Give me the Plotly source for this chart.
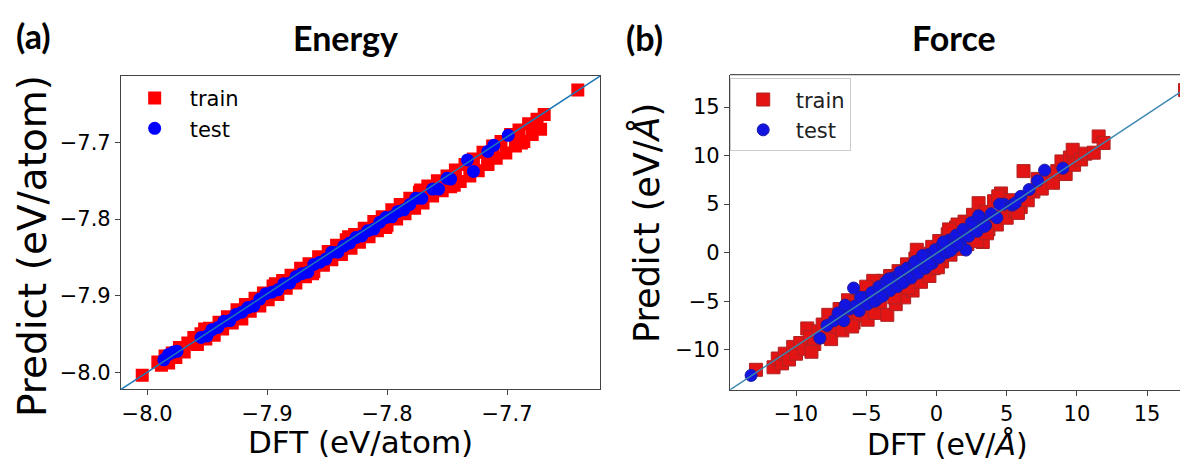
import plotly.graph_objects as go

# ---- energy (eV/atom) ----
energy_train_dft = [-8.004, -7.991, -7.988, -7.985, -7.982, -7.979, -7.976, -7.973, -7.969, -7.966,
                    -7.961, -7.958, -7.955, -7.951, -7.948, -7.944, -7.940, -7.937, -7.933, -7.929,
                    -7.925, -7.922, -7.918, -7.914, -7.910, -7.906, -7.903, -7.899, -7.895, -7.891,
                    -7.887, -7.884, -7.880, -7.876, -7.872, -7.868, -7.865, -7.861, -7.857, -7.853,
                    -7.849, -7.846, -7.842, -7.838, -7.834, -7.830, -7.827, -7.823, -7.819, -7.815,
                    -7.811, -7.808, -7.804, -7.800, -7.796, -7.792, -7.789, -7.785, -7.781, -7.777,
                    -7.773, -7.770, -7.766, -7.762, -7.758, -7.754, -7.750, -7.747, -7.743, -7.739,
                    -7.735, -7.731, -7.728, -7.724, -7.720, -7.716, -7.712, -7.709, -7.705, -7.701,
                    -7.697, -7.693, -7.690, -7.686, -7.682, -7.679, -7.675, -7.672, -7.669, -7.641,
                    -7.952, -7.921, -7.893, -7.862, -7.832, -7.801, -7.772, -7.744, -7.716, -7.688]
energy_train_pred = [-8.003, -7.986, -7.990, -7.978, -7.987, -7.974, -7.980, -7.967, -7.973, -7.961,
                     -7.954, -7.963, -7.949, -7.956, -7.942, -7.951, -7.934, -7.943, -7.927, -7.935,
                     -7.918, -7.928, -7.911, -7.920, -7.903, -7.913, -7.896, -7.905, -7.887, -7.898,
                     -7.880, -7.890, -7.873, -7.883, -7.864, -7.875, -7.858, -7.868, -7.849, -7.860,
                     -7.842, -7.853, -7.834, -7.846, -7.827, -7.838, -7.820, -7.830, -7.812, -7.823,
                     -7.803, -7.815, -7.797, -7.808, -7.788, -7.800, -7.781, -7.793, -7.773, -7.786,
                     -7.765, -7.779, -7.757, -7.770, -7.750, -7.763, -7.744, -7.758, -7.736, -7.751,
                     -7.729, -7.744, -7.722, -7.737, -7.713, -7.728, -7.705, -7.721, -7.699, -7.714,
                     -7.690, -7.705, -7.684, -7.699, -7.676, -7.690, -7.670, -7.683, -7.664, -7.632,
                     -7.943, -7.930, -7.884, -7.871, -7.823, -7.811, -7.762, -7.756, -7.729, -7.701]

energy_test_dft = [-7.986, -7.982, -7.978, -7.975, -7.955, -7.950, -7.946, -7.941, -7.936, -7.931,
                   -7.926, -7.921, -7.916, -7.911, -7.906, -7.901, -7.896, -7.891, -7.886, -7.881,
                   -7.876, -7.871, -7.866, -7.861, -7.856, -7.851, -7.846, -7.841, -7.836, -7.831,
                   -7.826, -7.821, -7.816, -7.811, -7.806, -7.801, -7.796, -7.791, -7.786, -7.781,
                   -7.776, -7.771, -7.762, -7.757, -7.750, -7.747, -7.733, -7.728, -7.716, -7.711,
                   -7.699]
energy_test_pred = [-7.983, -7.976, -7.973, -7.972, -7.954, -7.952, -7.944, -7.941, -7.933, -7.932,
                    -7.924, -7.921, -7.915, -7.913, -7.904, -7.897, -7.895, -7.892, -7.884, -7.883,
                    -7.875, -7.871, -7.869, -7.859, -7.856, -7.852, -7.843, -7.843, -7.835, -7.831,
                    -7.824, -7.822, -7.815, -7.813, -7.804, -7.798, -7.797, -7.790, -7.788, -7.781,
                    -7.773, -7.773, -7.761, -7.761, -7.747, -7.748, -7.723, -7.738, -7.712, -7.704,
                    -7.691]

# ---- force (eV/A) ----
force_train_dft = [-12.85, -11.6, -11.3, -11.0, -10.8, -10.5, -10.2, -10.0, -9.7, -9.4,
                   -9.2, -9.0, -8.7, -8.4, -8.1, -7.9, -7.5, -7.3, -7.1, -6.9,
                   -6.7, -6.4, -6.3, -6.1, -5.9, -5.7, -5.5, -5.3, -5.1, -4.9,
                   -4.8, -4.6, -4.4, -4.2, -4.0, -3.8, -3.7, -3.5, -3.3, -3.1,
                   -2.9, -2.7, -2.5, -2.3, -2.1, -1.9, -1.7, -1.5, -1.3, -1.1,
                   -0.9, -0.7, -0.5, -0.3, -0.2, 0.0, 0.2, 0.4, 0.6, 0.8,
                   1.0, 1.2, 1.4, 1.6, 1.8, 2.0, 2.2, 2.4, 2.6, 2.8,
                   3.0, 3.1, 3.3, 3.5, 3.7, 3.9, 4.1, 4.3, 4.6, 4.8,
                   5.0, 5.3, 5.6, 6.0, 6.2, 6.5, 6.9, 7.2, 7.5, 7.9,
                   8.3, 8.6, 8.9, 9.2, 9.5, 9.8, 9.7, 10.3, 10.6, 11.2,
                   11.55, 11.9, 17.7,
                   -7.7, -6.0, -4.5, -3.0, -1.4, 0.1, 1.5, 2.9, 4.4, 5.8,
                   -8.9, -5.0, -2.0, 0.9, 3.6]
force_train_pred = [-12.06, -11.8, -10.9, -11.4, -10.4, -11.0, -9.7, -10.4, -9.3, -9.9,
                    -7.8, -8.7, -9.4, -8.1, -7.4, -8.7, -8.9, -6.6, -7.6, -5.8,
                    -8.0, -6.9, -4.9, -6.0, -7.2, -5.1, -6.5, -4.3, -5.6, -6.9,
                    -3.8, -4.8, -6.2, -3.2, -5.1, -2.9, -4.2, -6.4, -2.4, -3.7,
                    -5.3, -1.9, -3.1, -4.6, -1.2, -2.5, -3.9, -0.6, -1.8, -3.0,
                    -0.1, -1.2, -2.4, 0.6, -1.6, -0.7, 1.2, -0.9, 0.3, 1.9,
                    -0.2, 1.0, 2.6, 0.4, 1.7, 3.2, 0.9, 2.3, 3.9, 1.5,
                    5.1, 2.8, 1.1, 4.2, 2.4, 3.6, 5.3, 2.9, 6.1, 4.3,
                    3.6, 5.4, 4.3, 4.7, 8.4, 5.4, 6.3, 7.6, 6.6, 7.9,
                    7.2, 8.4, 9.4, 8.1, 9.8, 9.05, 10.6, 9.6, 10.2, 10.3,
                    11.97, 11.3, 16.75,
                    -6.4, -7.6, -2.9, -4.6, 0.3, -1.5, 2.9, 1.2, 5.8, 4.1,
                    -10.2, -3.5, -3.6, 2.4, 2.0]

force_test_dft = [-13.2, -8.3, -7.8, -7.3, -6.9, -6.6, -5.9, -6.2, -5.8, -5.5,
                  -5.2, -4.9, -4.6, -4.3, -4.1, -3.8, -3.6, -3.3, -3.1, -2.8,
                  -2.6, -2.3, -2.1, -1.8, -1.6, -1.3, -1.1, -0.8, -0.6, -0.3,
                  -0.1, 0.2, 0.4, 0.7, 0.9, 1.2, 1.4, 1.7, 1.9, 2.1,
                  2.3, 2.6, 2.9, 3.2, 3.5, 3.9, 4.3, 4.8, 5.4, 6.0,
                  6.6, 7.2, 7.7, 9.0,
                  -7.0, -5.4, -4.4, -3.4, -2.4, -1.5, -0.5, 0.5, 1.5, 2.5,
                  3.4, 4.5, 5.6, -6.5, -3.9, -1.0, 1.0, 3.0]
force_test_pred = [-12.64, -8.8, -7.5, -7.0, -6.4, -7.0, -3.64, -5.8, -5.5, -6.0,
                   -4.6, -5.3, -4.1, -4.9, -3.5, -4.4, -3.0, -3.9, -2.6, -3.5,
                   -2.0, -3.0, -1.6, -2.6, -1.1, -2.1, -0.6, -1.6, -0.2, -1.1,
                   0.3, -0.5, 0.8, 0.0, 1.3, 0.5, 1.8, 1.0, 2.4, 0.27,
                   1.7, 3.0, 2.2, 3.4, 2.8, 4.0, 3.6, 5.0, 4.9, 5.8,
                   6.5, 7.4, 8.5, 8.7,
                   -6.2, -4.6, -5.0, -2.7, -3.1, -0.9, -1.2, 1.1, 0.8, 3.1,
                   2.7, 5.0, 5.1, -5.4, -4.5, -0.3, 0.2, 3.8]

energy_range_x = [-8.0217, -7.6225]
energy_range_y = [-8.0214, -7.6140]
force_range_x = [-14.70, 19.25]   # full matplotlib axis, right part cut off in the figure
force_visible_x = [-14.70, 18.48]
force_range_y = [-14.12, 18.33]

TICK_FONT = dict(family="DejaVu Sans", size=21, color="black")
LABEL_FONT = "DejaVu Sans"
TITLE_FONT = "Lato"

fig = go.Figure()

# (a) energy
fig.add_trace(go.Scatter(x=energy_train_dft, y=energy_train_pred, mode="markers", name="train",
                         marker=dict(symbol="square", size=13, color="#ff0000", line=dict(width=0)),
                         xaxis="x", yaxis="y", legend="legend"))
fig.add_trace(go.Scatter(x=energy_test_dft, y=energy_test_pred, mode="markers", name="test",
                         marker=dict(symbol="circle", size=13, color="#0000ff", line=dict(width=0)),
                         xaxis="x", yaxis="y", legend="legend"))

# (b) force
fig.add_trace(go.Scatter(x=force_train_dft, y=force_train_pred, mode="markers", name="train",
                         marker=dict(symbol="square", size=13, color="#e31414",
                                     line=dict(width=1, color="#b02222")),
                         xaxis="x2", yaxis="y2", legend="legend2"))
fig.add_trace(go.Scatter(x=force_test_dft, y=force_test_pred, mode="markers", name="test",
                         marker=dict(symbol="circle", size=12, color="#1414e0",
                                     line=dict(width=1, color="#1a1aa8")),
                         xaxis="x2", yaxis="y2", legend="legend2"))
# diagonal of the (uncut) force axes
fig.add_trace(go.Scatter(x=force_range_x, y=force_range_y, mode="lines", showlegend=False,
                         line=dict(color="#3a86b0", width=1.5), hoverinfo="skip",
                         xaxis="x2", yaxis="y2"))

# diagonal of the energy axes
fig.add_shape(type="line", xref="x domain", yref="y domain", x0=0, y0=0, x1=1, y1=1,
              line=dict(color="#1f77b4", width=1.5))
# top border of the force panel (right border is outside the picture)
fig.add_shape(type="line", xref="x2 domain", yref="y2 domain", x0=0, y0=1, x1=1, y1=1,
              line=dict(color="#555555", width=1.2))

ax_common = dict(showgrid=False, zeroline=False, showline=True, linecolor="#444444", linewidth=1.2,
                 ticks="outside", ticklen=5, tickcolor="#444444", tickfont=TICK_FONT)

fig.update_layout(
    width=1188, height=460,
    margin=dict(l=0, r=0, t=0, b=0),
    plot_bgcolor="white", paper_bgcolor="white",
    xaxis=dict(domain=[113 / 1188, 592 / 1188], range=energy_range_x, tick0=-8.0, dtick=0.1,
               tickformat=".1f", mirror=True, anchor="y", **ax_common),
    yaxis=dict(domain=[0.171, 0.852], range=energy_range_y, tick0=-8.0, dtick=0.1,
               tickformat=".1f", mirror=True, anchor="x", **ax_common),
    xaxis2=dict(domain=[722 / 1188, 1.0], range=force_visible_x, tick0=0, dtick=5,
                anchor="y2", **ax_common),
    yaxis2=dict(domain=[0.170, 0.855], range=force_range_y, tick0=0, dtick=5,
                anchor="x2", **ax_common),
    legend=dict(x=0.094, y=0.848, xanchor="left", yanchor="top", bgcolor="rgba(0,0,0,0)",
                borderwidth=0, itemwidth=60,
                font=dict(family=LABEL_FONT, size=21, color="black")),
    legend2=dict(x=0.6075, y=0.847, xanchor="left", yanchor="top", bgcolor="white",
                 bordercolor="#cccccc", borderwidth=1, itemwidth=55,
                 font=dict(family=LABEL_FONT, size=21, color="#222222")),
    showlegend=True,
)

annots = [
    dict(text="<b>(a)</b>", x=6, y=28, size=34, family=TITLE_FONT, xanchor="left"),
    dict(text="<b>Energy</b>", x=337, y=30, size=34, family=TITLE_FONT, xanchor="center"),
    dict(text="<b>(b)</b>", x=616, y=30, size=34, family=TITLE_FONT, xanchor="left"),
    dict(text="<b>Force</b>", x=946, y=30, size=34, family=TITLE_FONT, xanchor="center"),
]
for a in annots:
    fig.add_annotation(text=a["text"], x=a["x"] / 1188, y=1 - a["y"] / 460, xref="paper", yref="paper",
                       xanchor=a["xanchor"], yanchor="middle", showarrow=False,
                       font=dict(family=a["family"], size=a["size"], color="black"))

# x-axis titles
fig.add_annotation(text="DFT (eV/atom)", x=352 / 1188, y=1 - 434 / 460, xref="paper", yref="paper",
                   xanchor="center", yanchor="middle", showarrow=False,
                   font=dict(family=LABEL_FONT, size=31, color="black"))
fig.add_annotation(text="DFT (eV/<i>Å</i>)", x=940 / 1188, y=1 - 436 / 460, xref="paper", yref="paper",
                   xanchor="center", yanchor="middle", showarrow=False,
                   font=dict(family=LABEL_FONT, size=30, color="black"))

fig.add_annotation(text="Predict (eV/atom)", x=24 / 1188, y=1 - 238 / 460, xref="paper", yref="paper",
                   textangle=-90, showarrow=False, xanchor="center", yanchor="middle",
                   font=dict(family=LABEL_FONT, size=39, color="black"))
fig.add_annotation(text="Predict (eV/<i>Å</i>)", x=638 / 1188, y=1 - 215 / 460, xref="paper", yref="paper",
                   textangle=-90, showarrow=False, xanchor="center", yanchor="middle",
                   font=dict(family=LABEL_FONT, size=35, color="black"))

fig.write_html("out.html")
